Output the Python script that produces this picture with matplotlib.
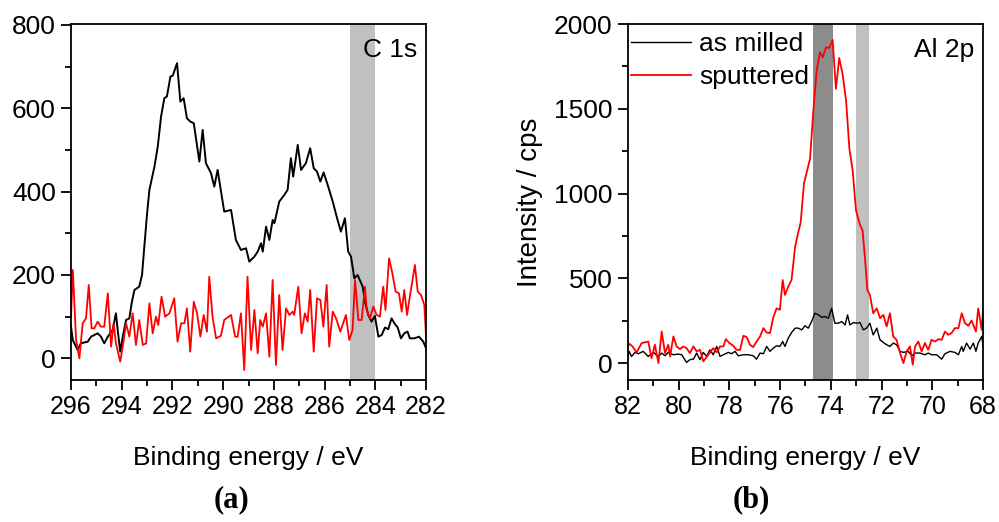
import matplotlib
matplotlib.use("Agg")
import matplotlib.pyplot as plt
from matplotlib.ticker import MultipleLocator

plt.rcParams['font.family'] = ['Liberation Sans', 'DejaVu Sans']

# (a) C 1s
c1s_black_ev = [296.0, 295.93, 295.74, 295.61, 295.34, 295.21, 295.08, 294.95, 294.82, 294.69,
                294.55, 294.36, 294.23, 294.16, 294.06, 293.96, 293.83, 293.70, 293.61, 293.50,
                293.31, 293.20, 293.11, 293.00, 292.91, 292.71, 292.58, 292.45, 292.32, 292.22,
                292.08, 291.99, 291.82, 291.69, 291.56, 291.43, 291.30, 291.16, 290.94, 290.81,
                290.68, 290.48, 290.35, 290.22, 289.96, 289.69, 289.50, 289.30, 289.10, 288.97,
                288.77, 288.64, 288.51, 288.44, 288.31, 288.18, 288.05, 287.98, 287.79, 287.59,
                287.46, 287.33, 287.24, 287.06, 286.93, 286.74, 286.57, 286.43, 286.30, 286.17,
                286.04, 285.88, 285.68, 285.49, 285.36, 285.20, 285.07, 284.96, 284.83, 284.70,
                284.50, 284.41, 284.28, 284.15, 284.02, 283.88, 283.75, 283.62, 283.49, 283.36,
                283.25, 283.12, 282.99, 282.86, 282.73, 282.64, 282.46, 282.28, 282.11, 282.0]
c1s_black = [76, 44, 20, 36, 40, 52, 56, 60, 52, 36,
             52, 68, 108, 68, 16, 52, 92, 96, 132, 164,
             172, 200, 268, 348, 404, 460, 508, 580, 624, 628,
             676, 678, 708, 616, 624, 576, 568, 564, 472, 548,
             468, 444, 412, 452, 352, 356, 284, 260, 264, 232,
             244, 256, 276, 256, 316, 284, 332, 324, 376, 392,
             404, 480, 436, 512, 452, 468, 504, 456, 448, 424,
             446, 416, 376, 332, 304, 336, 256, 244, 192, 200,
             172, 136, 104, 88, 102, 52, 56, 74, 70, 96,
             84, 74, 48, 60, 64, 48, 48, 52, 40, 24]

c1s_red_ev = [296.0, 295.93, 295.80, 295.67, 295.54, 295.41, 295.30, 295.19, 295.08, 294.95,
              294.82, 294.69, 294.55, 294.42, 294.32, 294.23, 294.06, 293.92, 293.83, 293.70,
              293.57, 293.44, 293.31, 293.17, 293.04, 292.91, 292.78, 292.65, 292.56, 292.43,
              292.29, 292.12, 291.93, 291.80, 291.66, 291.53, 291.43, 291.30, 291.16, 291.03,
              290.90, 290.77, 290.64, 290.55, 290.42, 290.28, 290.09, 289.96, 289.69, 289.53,
              289.43, 289.30, 289.17, 289.04, 288.90, 288.77, 288.64, 288.54, 288.44, 288.31,
              288.18, 288.05, 287.92, 287.79, 287.66, 287.52, 287.39, 287.26, 287.20, 287.04,
              286.91, 286.78, 286.67, 286.57, 286.43, 286.30, 286.17, 286.05, 285.92, 285.82,
              285.68, 285.55, 285.38, 285.25, 285.16, 285.03, 284.90, 284.80, 284.67, 284.54,
              284.41, 284.34, 284.21, 284.08, 283.95, 283.82, 283.69, 283.60, 283.46, 283.33,
              283.20, 283.07, 282.96, 282.86, 282.75, 282.64, 282.44, 282.33, 282.20, 282.07,
              282.0]
c1s_red = [100, 212, 44, 0, 84, 96, 176, 72, 72, 88,
           76, 76, 156, 28, 84, 36, -8, 44, 84, 52,
           108, 32, 92, 32, 36, 132, 60, 100, 80, 148,
           100, 108, 144, 40, 84, 84, 120, 16, 136, 108,
           52, 104, 64, 196, 100, 48, 54, 92, 104, 52,
           52, 108, -28, 196, 20, 116, 12, 92, 76, 108,
           4, 188, -16, 152, 20, 120, 104, 112, 104, 172,
           60, 108, 88, 164, 16, 144, 140, 76, 176, 28,
           112, 96, 64, 88, 104, 44, 68, 188, 92, 92,
           172, 116, 96, 124, 104, 100, 172, 116, 240, 204,
           160, 156, 112, 164, 104, 148, 224, 160, 152, 128,
           52]

# (b) Al 2p
al_black_ev = [82.0, 81.95, 81.86, 81.72, 81.59, 81.40, 81.20, 81.00, 80.80, 80.67,
               80.54, 80.41, 80.21, 80.02, 79.88, 79.69, 79.56, 79.42, 79.29, 79.16,
               79.03, 78.90, 78.77, 78.64, 78.50, 78.37, 78.24, 78.04, 77.91, 77.78,
               77.65, 77.45, 77.25, 77.06, 76.93, 76.79, 76.66, 76.53, 76.40, 76.27,
               76.14, 76.01, 75.90, 75.81, 75.68, 75.55, 75.41, 75.28, 75.15, 75.02,
               74.89, 74.76, 74.63, 74.49, 74.36, 74.23, 74.10, 73.97, 73.84, 73.71,
               73.57, 73.44, 73.34, 73.25, 73.11, 72.98, 72.85, 72.72, 72.59, 72.46,
               72.33, 72.19, 72.06, 71.93, 71.80, 71.67, 71.54, 71.41, 71.27, 71.14,
               70.95, 70.81, 70.68, 70.49, 70.29, 70.16, 70.03, 69.83, 69.63, 69.50,
               69.30, 69.11, 68.97, 68.84, 68.78, 68.65, 68.51, 68.38, 68.28, 68.19,
               68.05, 68.0]
al_black = [39, 68, 39, 63, 55, 69, 39, 63, 39, 59,
            43, 63, 49, 53, 49, 4, 20, 23, 59, 20,
            63, 39, 78, 49, 98, 39, 49, 63, 55, 69,
            43, 49, 49, 43, 23, 59, 55, 98, 69, 88,
            102, 98, 127, 98, 147, 180, 206, 206, 196, 220,
            206, 245, 294, 284, 270, 274, 265, 323, 235, 235,
            245, 225, 284, 225, 239, 235, 239, 196, 206, 235,
            166, 206, 137, 121, 108, 98, 118, 108, 69, 63,
            69, 43, 59, 59, 49, 59, 49, 49, 23, 55,
            69, 63, 49, 98, 69, 118, 82, 118, 69, 118,
            157, 100]

al_red_ev = [82.0, 81.95, 81.82, 81.66, 81.46, 81.20, 81.07, 80.94, 80.80, 80.67,
             80.54, 80.41, 80.34, 80.21, 80.08, 79.95, 79.82, 79.69, 79.56, 79.42,
             79.29, 79.16, 79.03, 78.83, 78.64, 78.50, 78.37, 78.24, 78.14, 78.00,
             77.85, 77.72, 77.58, 77.45, 77.32, 77.19, 77.06, 76.93, 76.79, 76.66,
             76.53, 76.40, 76.27, 76.14, 76.01, 75.90, 75.81, 75.68, 75.55, 75.41,
             75.28, 75.19, 75.06, 74.82, 74.69, 74.56, 74.43, 74.32, 74.19, 74.06,
             73.93, 73.80, 73.67, 73.54, 73.40, 73.27, 73.14, 73.01, 72.85, 72.75,
             72.65, 72.56, 72.46, 72.33, 72.19, 72.06, 71.93, 71.80, 71.67, 71.54,
             71.41, 71.27, 71.14, 71.01, 70.88, 70.77, 70.68, 70.55, 70.42, 70.29,
             70.16, 70.03, 69.89, 69.76, 69.63, 69.50, 69.37, 69.24, 69.11, 68.97,
             68.84, 68.71, 68.58, 68.45, 68.28, 68.19, 68.05, 68.0]
al_red = [102, 114, 98, 63, 118, 127, 29, 108, 0, 186,
          59, 108, 39, 157, 98, 82, 98, 88, 59, 98,
          69, 78, 10, 49, 88, 63, 98, 98, 141, 118,
          102, 78, 78, 161, 153, 108, 94, 127, 157, 206,
          180, 177, 270, 323, 314, 490, 402, 451, 490, 686,
          775, 830, 1059, 1206, 1490, 1725, 1833, 1804, 1863, 1859,
          1906, 1618, 1800, 1706, 1549, 1265, 1137, 902, 814, 784,
          608, 431, 402, 294, 323, 265, 284, 216, 294, 157,
          137, 59, 0, 69, 98, -10, 98, 127, 69, 118,
          78, 137, 127, 141, 137, 186, 167, 177, 206, 206,
          294, 235, 220, 251, 186, 323, 196, 314]

fig = plt.figure(figsize=(9.99, 5.22), dpi=100)
ax1 = fig.add_axes([0.0711, 0.272, 0.3554, 0.682])
ax2 = fig.add_axes([0.6286, 0.272, 0.3554, 0.682])

# C 1s
ax1.axvspan(284.0, 285.0, color='#c0c0c0', lw=0, zorder=0)
ax1.plot(c1s_black_ev, c1s_black, color='black', lw=1.4)
ax1.plot(c1s_red_ev, c1s_red, color='red', lw=1.3)
ax1.set_xlim(296, 282)
ax1.set_ylim(-52, 802)
ax1.xaxis.set_major_locator(MultipleLocator(2))
ax1.xaxis.set_minor_locator(MultipleLocator(1))
ax1.yaxis.set_major_locator(MultipleLocator(200))
ax1.yaxis.set_minor_locator(MultipleLocator(100))
ax1.set_xlabel('Binding energy / eV', fontsize=19, labelpad=19)
ax1.text(0.975, 0.96, 'C 1s', transform=ax1.transAxes, ha='right', va='top', fontsize=19)

# Al 2p
ax2.axvspan(73.9, 74.7, color='#8c8c8c', lw=0, zorder=0)
ax2.axvspan(72.5, 73.0, color='#c0c0c0', lw=0, zorder=0)
ax2.plot(al_black_ev, al_black, color='black', lw=1.0, label='as milled')
ax2.plot(al_red_ev, al_red, color='red', lw=1.3, label='sputtered')
ax2.set_xlim(82, 68)
ax2.set_ylim(-100, 2000)
ax2.xaxis.set_major_locator(MultipleLocator(2))
ax2.xaxis.set_minor_locator(MultipleLocator(1))
ax2.yaxis.set_major_locator(MultipleLocator(500))
ax2.yaxis.set_minor_locator(MultipleLocator(250))
ax2.set_xlabel('Binding energy / eV', fontsize=19, labelpad=19)
ax2.set_ylabel('Intensity / cps', fontsize=20, labelpad=8)
ax2.text(0.975, 0.96, 'Al 2p', transform=ax2.transAxes, ha='right', va='top', fontsize=19)
ax2.legend(loc='upper left', bbox_to_anchor=(0.0, 0.985), frameon=False, fontsize=19,
           handlelength=2.3, handletextpad=0.3, borderaxespad=0.0, borderpad=0.1,
           labelspacing=0.35)

for ax in (ax1, ax2):
    for s in ax.spines.values():
        s.set_linewidth(1.3)
    ax.tick_params(which='major', direction='out', length=7, width=1.3, labelsize=18, pad=4)
    ax.tick_params(which='minor', direction='out', length=4, width=1.3)
    ax.tick_params(axis='y', labelsize=19)

fig.text(0.232, 0.042, '(a)', fontsize=22, fontweight='bold', family='Liberation Serif',
         ha='center', va='center')
fig.text(0.752, 0.042, '(b)', fontsize=22, fontweight='bold', family='Liberation Serif',
         ha='center', va='center')

fig.savefig('out.png', dpi=100)
